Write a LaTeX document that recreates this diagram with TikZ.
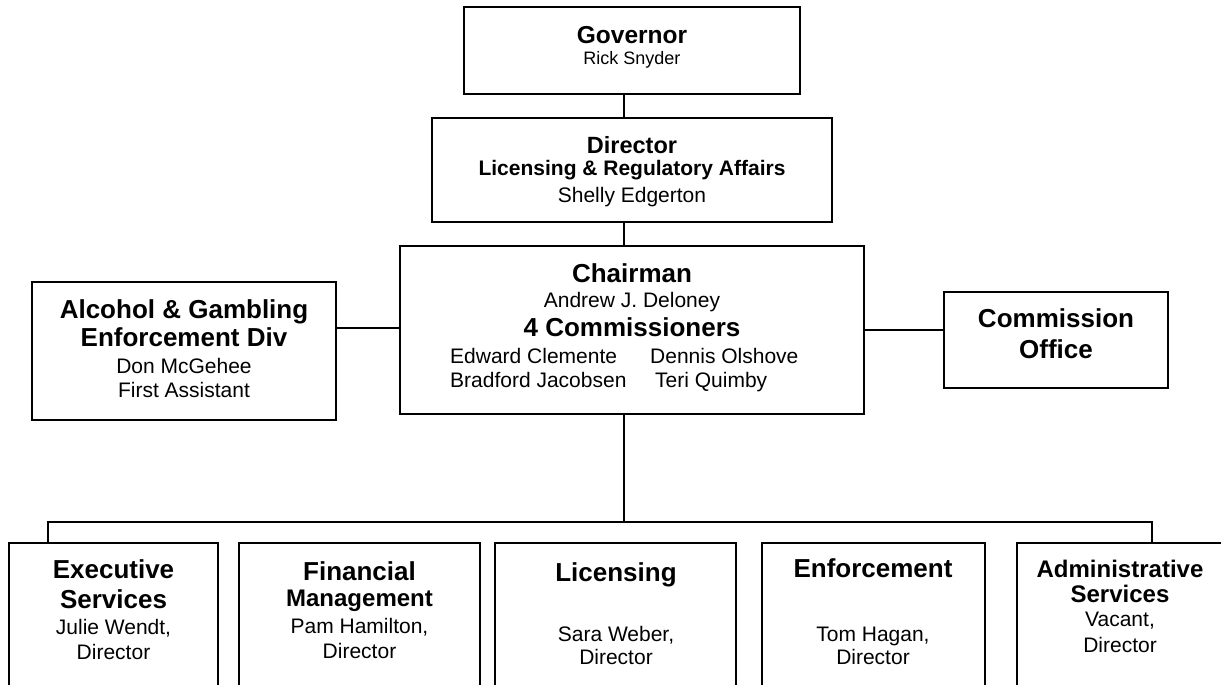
\documentclass[tikz,border=0pt]{standalone}
\usepackage{fontspec}
\setmainfont{Liberation Sans}
\newcommand\fsz[1]{\fontsize{#1}{#1}\selectfont}
\begin{document}
\begin{tikzpicture}[x=1pt,y=-1pt,
  box/.style={draw, line width=1.8pt, inner sep=0pt},
  conn/.style={draw, line width=1.8pt},
  hd/.style={anchor=base, inner sep=0pt, font=\bfseries\fsz{26}},
  nm/.style={anchor=base, inner sep=0pt, font=\fsz{21}},
  nmw/.style={anchor=base west, inner sep=0pt, font=\fsz{21}}]
\useasboundingbox[fill=white] (0,0) rectangle (1221,685);

% boxes
\node[box, minimum width=336pt, minimum height=87pt]  (gov)   at (632,50.5) {};
\node[box, minimum width=400pt, minimum height=104pt] (dir)   at (632,170) {};
\node[box, minimum width=464pt, minimum height=168pt] (chair) at (632,330) {};
\node[box, minimum width=304pt, minimum height=138pt] (alc)   at (184,351) {};
\node[box, minimum width=224pt, minimum height=96pt]  (com)   at (1056,340) {};
\node[box, minimum width=209pt, minimum height=157pt] (exec)  at (113.5,621.5) {};
\node[box, minimum width=241pt, minimum height=157pt] (fin)   at (359.5,621.5) {};
\node[box, minimum width=241pt, minimum height=157pt] (lic)   at (615.5,621.5) {};
\node[box, minimum width=223pt, minimum height=157pt] (enf)   at (873.5,621.5) {};
\node[box, minimum width=213pt, minimum height=157pt] (adm)   at (1123.5,621.5) {};

% texts
\node[hd, font=\bfseries\fsz{24.5}] (govA) at (632,44) {Governor};
\node[nm, font=\fsz{18}] (govB) at (632,64) {Rick Snyder};

\node[hd, font=\bfseries\fsz{23.5}] (dirA) at (632,153) {Director};
\node[hd, font=\bfseries\fsz{21}] (dirB) at (632,175) {Licensing \& Regulatory Affairs};
\node[nm] (dirC) at (632,202) {Shelly Edgerton};

\node[hd] (chA) at (632,282) {Chairman};
\node[nm] (chB) at (632,307) {Andrew J. Deloney};
\node[hd] (chC) at (632,336) {4 Commissioners};
\node[nmw] (chD) at (450,363) {Edward Clemente};
\node[nmw] (chE) at (650,363) {Dennis Olshove};
\node[nmw] (chF) at (450,387) {Bradford Jacobsen};
\node[nmw] (chG) at (655,387) {Teri Quimby};

\node[hd] (alA) at (184,318) {Alcohol \& Gambling};
\node[hd] (alB) at (184,346) {Enforcement Div};
\node[nm] (alC) at (184,373) {Don McGehee};
\node[nm] (alD) at (184,397) {First Assistant};

\node[hd] (coA) at (1056,327) {Commission};
\node[hd] (coB) at (1056,358) {Office};

\node[hd] (exA) at (113.5,578) {Executive};
\node[hd] (exB) at (113.5,608) {Services};
\node[nm] (exC) at (113.5,634) {Julie Wendt,};
\node[nm] (exD) at (113.5,659) {Director};

\node[hd] (fiA) at (359.5,580) {Financial};
\node[hd, font=\bfseries\fsz{24}] (fiB) at (359.5,606) {Management};
\node[nm] (fiC) at (359.5,633) {Pam Hamilton,};
\node[nm] (fiD) at (359.5,658) {Director};

\node[hd] (liA) at (616,581) {Licensing};
\node[nm] (liC) at (616,641) {Sara Weber,};
\node[nm] (liD) at (616,664) {Director};

\node[hd] (enA) at (873,577) {Enforcement};
\node[nm] (enC) at (873,641) {Tom Hagan,};
\node[nm] (enD) at (873,664) {Director};

\node[hd, font=\bfseries\fsz{24}] (adA) at (1120,577) {Administrative};
\node[hd, font=\bfseries\fsz{24}] (adB) at (1120,602) {Services};
\node[nm] (adC) at (1120,626) {Vacant,};
\node[nm] (adD) at (1120,652) {Director};

% connectors
\coordinate (sp) at (624,0);
\coordinate (lc) at (0,328);
\coordinate (rc) at (0,330);
\coordinate (busL) at (48,522);
\coordinate (busR) at (1152,522);
\draw[conn] (sp |- gov.south) -- (sp |- dir.north);
\draw[conn] (sp |- dir.south) -- (sp |- chair.north);
\draw[conn] (lc -| alc.east) -- (lc -| chair.west);
\draw[conn] (rc -| chair.east) -- (rc -| com.west);
\draw[conn] (sp |- chair.south) -- (sp |- busL);
\draw[conn] (busL |- exec.north) -- (busL) -- (busR) -- (busR |- adm.north);
\end{tikzpicture}
\end{document}
